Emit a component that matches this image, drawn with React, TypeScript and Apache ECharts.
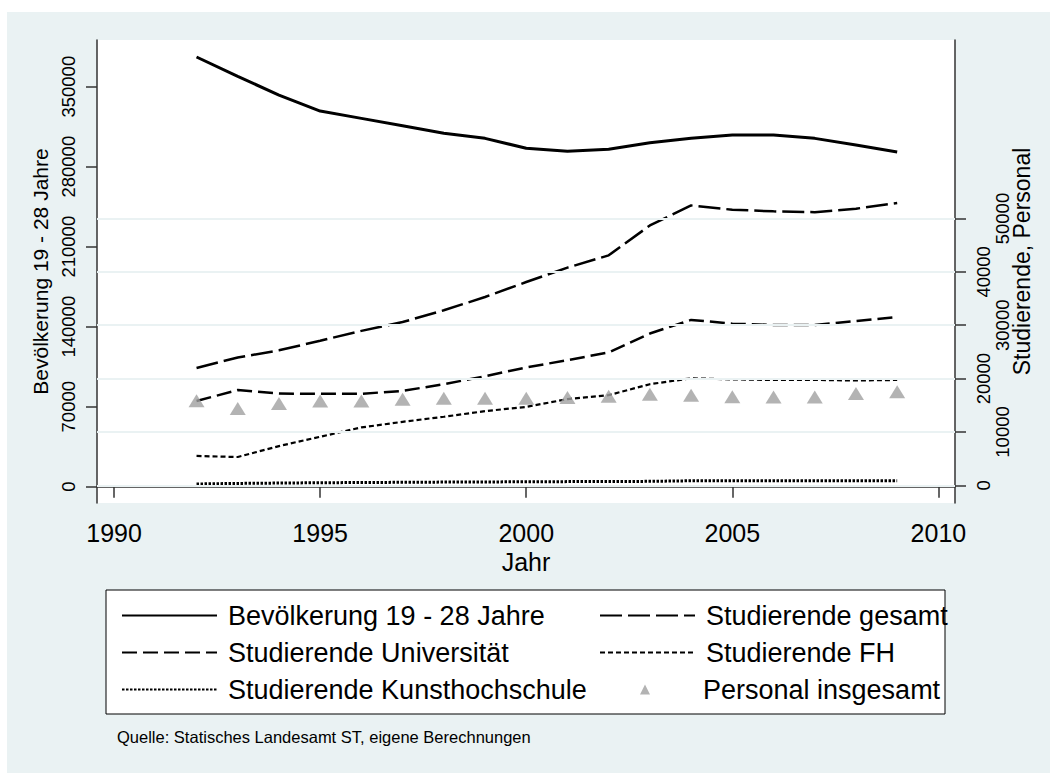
import React, { useEffect, useRef } from "react";
import * as echarts from "echarts";

const years = [1992, 1993, 1994, 1995, 1996, 1997, 1998, 1999, 2000, 2001, 2002, 2003, 2004, 2005, 2006, 2007, 2008, 2009];
const bevoelkerung = [376000, 359000, 342700, 328700, 322300, 315900, 309200, 304800, 296100, 293500, 295200, 301000, 304800, 307700, 307700, 304800, 299000, 292900];
const gesamt = [22000, 23950, 25300, 27100, 28950, 30600, 32800, 35300, 38100, 40800, 43100, 48700, 52450, 51650, 51350, 51200, 51850, 52900];
const universitaet = [15800, 17850, 17200, 17150, 17150, 17700, 18950, 20450, 22100, 23450, 24900, 28450, 31000, 30300, 30050, 30050, 30800, 31550];
const fh = [5500, 5300, 7350, 9100, 10850, 11900, 12850, 13900, 14700, 16150, 16900, 18950, 20050, 19850, 19750, 19750, 19650, 19750];
const kunst = [250, 350, 420, 480, 520, 560, 600, 630, 660, 690, 710, 740, 850, 870, 860, 850, 840, 830];
const personal = [15850, 14400, 15350, 15800, 15800, 16150, 16300, 16300, 16300, 16450, 16700, 17050, 16900, 16600, 16550, 16550, 17200, 17550];

const xTicks = [1990, 1995, 2000, 2005, 2010];
const leftTicks = [0, 70000, 140000, 210000, 280000, 350000];
const rightTicks = [0, 10000, 20000, 30000, 40000, 50000];
const rightLabelsNear = [0, 20000, 40000];
const rightLabelsFar = [10000, 30000, 50000];

const names = {
  bev: "Bevölkerung 19 - 28 Jahre",
  ges: "Studierende gesamt",
  uni: "Studierende Universität",
  fh: "Studierende FH",
  kunst: "Studierende Kunsthochschule",
  pers: "Personal insgesamt",
};

const FONT = "'Liberation Sans', Arial, Helvetica, sans-serif";

const pairs = (vals: number[]) => years.map((y, i) => [y, vals[i]]);

export default function App() {
  const ref = useRef<HTMLDivElement>(null);
  useEffect(() => {
    if (!ref.current) return;
    const chart = echarts.init(ref.current, undefined, { renderer: "svg" });
    const axisLine = { show: true, lineStyle: { color: "#333", width: 1.5 } };
    const tickStyle = { color: "#333", width: 1.5 };
    const fmt = (v: number) => String(v);
    const legendText = {
      fontSize: 27,
      lineHeight: 27,
      color: "#000",
      fontFamily: FONT,
      padding: [0, 0, 0, 6],
    };
    const lineItem = (name: string) => ({ name, itemStyle: { opacity: 0 } });
    chart.setOption({
      animation: false,
      backgroundColor: "#eaf2f3",
      textStyle: { fontFamily: FONT },
      grid: {
        left: 97,
        top: 40,
        right: 95,
        bottom: 270,
        show: true,
        backgroundColor: "#ffffff",
        borderWidth: 0,
      },
      xAxis: {
        type: "value",
        min: 1989.585,
        max: 2010.403,
        axisLine,
        axisTick: { show: true, customValues: xTicks, length: 11, lineStyle: tickStyle },
        axisLabel: { customValues: xTicks, formatter: fmt, fontSize: 25, color: "#000", margin: 17, fontFamily: FONT },
        splitLine: { show: false },
        name: "Jahr",
        nameLocation: "middle",
        nameGap: 46,
        nameTextStyle: { fontSize: 25, color: "#000", fontFamily: FONT },
      },
      yAxis: [
        {
          type: "value",
          position: "left",
          min: -14262,
          max: 390862,
          axisLine,
          axisTick: { show: true, customValues: leftTicks, length: 11, lineStyle: tickStyle },
          axisLabel: { customValues: leftTicks, formatter: fmt, rotate: 90, fontSize: 18.5, color: "#000", margin: 19, fontFamily: FONT },
          splitLine: { show: false },
          name: names.bev,
          nameLocation: "middle",
          nameRotate: 90,
          nameGap: 30,
          nameTextStyle: { fontSize: 21, color: "#000", fontFamily: FONT },
        },
        {
          type: "value",
          position: "right",
          min: -3318,
          max: 83468,
          axisLine,
          axisTick: { show: true, customValues: rightTicks, length: 11, lineStyle: tickStyle },
          axisLabel: { customValues: rightLabelsNear, formatter: fmt, rotate: 90, fontSize: 18.5, color: "#000", margin: 19, fontFamily: FONT },
          splitLine: { show: false },
          name: "Studierende, Personal",
          nameLocation: "middle",
          nameRotate: 90,
          nameGap: 55,
          nameTextStyle: { fontSize: 23, color: "#000", fontFamily: FONT, padding: [0, 0, 0, 20] },
        },
        {
          type: "value",
          position: "right",
          min: -3318,
          max: 83468,
          axisLine: { show: false },
          axisTick: { show: false },
          axisLabel: { customValues: rightLabelsFar, formatter: fmt, rotate: 90, fontSize: 18.5, color: "#000", margin: 38, fontFamily: FONT },
          splitLine: { show: false },
        },
      ],
      legend: [
        {
          orient: "vertical",
          left: 116,
          top: 597,
          itemWidth: 95,
          itemHeight: 10,
          itemGap: 10,
          selectedMode: false,
          data: [lineItem(names.bev), lineItem(names.uni), lineItem(names.kunst)],
          textStyle: legendText,
        },
        {
          orient: "vertical",
          left: 594,
          top: 597,
          itemWidth: 95,
          itemHeight: 10,
          itemGap: 10,
          selectedMode: false,
          data: [lineItem(names.ges), lineItem(names.fh)],
          textStyle: legendText,
        },
        {
          orient: "vertical",
          left: 635,
          top: 671,
          itemWidth: 10,
          itemHeight: 10,
          selectedMode: false,
          data: [{ name: names.pers, icon: "triangle" }],
          textStyle: { ...legendText, padding: [0, 0, 0, 48] },
        },
      ],
      graphic: [
        { type: "rect", silent: true, shape: { x: 0, y: 0, width: 1050, height: 12 }, style: { fill: "#ffffff" } },
        { type: "rect", silent: true, shape: { x: 0, y: 0, width: 7, height: 773 }, style: { fill: "#ffffff" } },
        {
          type: "rect",
          silent: true,
          shape: { x: 106, y: 590, width: 839, height: 124 },
          style: { fill: "#ffffff", stroke: "#000", lineWidth: 1 },
        },
        {
          type: "text",
          silent: true,
          x: 117,
          y: 737,
          style: {
            text: "Quelle: Statisches Landesamt ST, eigene Berechnungen",
            fontSize: 16.5,
            fontFamily: FONT,
            fill: "#000",
            verticalAlign: "middle",
          },
        },
      ],
      series: [
        {
          type: "line",
          yAxisIndex: 1,
          data: [],
          z: 1,
          silent: true,
          markLine: {
            silent: true,
            symbol: ["none", "none"],
            label: { show: false },
            lineStyle: { color: "#eaf2f3", width: 1.8, type: "solid" },
            data: rightTicks.map((v) => ({ yAxis: v })),
          },
        },
        {
          name: names.bev,
          type: "line",
          yAxisIndex: 0,
          data: pairs(bevoelkerung),
          symbol: "none",
          z: 3,
          lineStyle: { color: "#000", width: 3, type: "solid" },
          itemStyle: { color: "#000" },
        },
        {
          name: names.ges,
          type: "line",
          yAxisIndex: 1,
          data: pairs(gesamt),
          symbol: "none",
          z: 3,
          lineStyle: { color: "#000", width: 2.5, type: [22, 6] },
          itemStyle: { color: "#000" },
        },
        {
          name: names.uni,
          type: "line",
          yAxisIndex: 1,
          data: pairs(universitaet),
          symbol: "none",
          z: 3,
          lineStyle: { color: "#000", width: 2.5, type: [15, 6] },
          itemStyle: { color: "#000" },
        },
        {
          name: names.fh,
          type: "line",
          yAxisIndex: 1,
          data: pairs(fh),
          symbol: "none",
          z: 3,
          lineStyle: { color: "#000", width: 2.2, type: [5, 3] },
          itemStyle: { color: "#000" },
        },
        {
          name: names.kunst,
          type: "line",
          yAxisIndex: 1,
          data: pairs(kunst),
          symbol: "none",
          z: 3,
          lineStyle: { color: "#000", width: 3, type: [2.5, 1.5] },
          itemStyle: { color: "#000" },
        },
        {
          name: names.pers,
          type: "scatter",
          yAxisIndex: 1,
          data: pairs(personal),
          symbol: "triangle",
          symbolSize: [16, 13],
          z: 4,
          itemStyle: { color: "#a0a0a0" },
        },
      ],
    });
    return () => chart.dispose();
  }, []);
  return <div ref={ref} style={{ position: "fixed", left: 0, top: 0, width: 1050, height: 773 }} />;
}
